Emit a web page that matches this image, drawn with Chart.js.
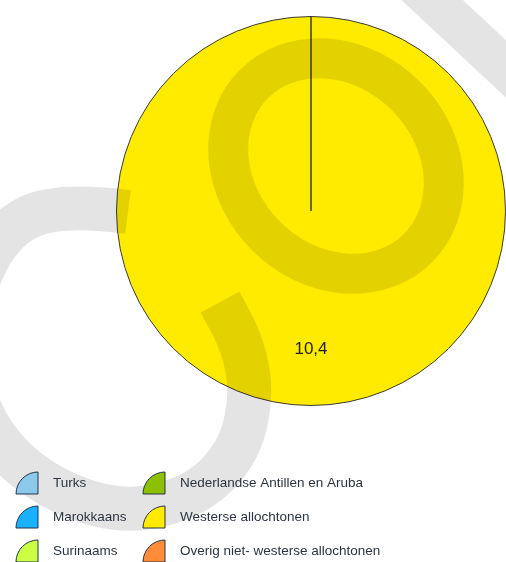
<!DOCTYPE html>
<html>
<head>
<meta charset="utf-8">
<script src="https://cdn.jsdelivr.net/npm/chart.js@4/dist/chart.umd.min.js"></script>
<style>
  body { margin: 0; background: #fff; }
  canvas { display: block; }
</style>
</head>
<body>
<canvas id="pie" width="506" height="562"></canvas>
<script>
// Categories and values (only one group has a value in this chart)
const categories = [
    "Turks",
    "Marokkaans",
    "Surinaams",
    "Nederlandse Antillen en Aruba",
    "Westerse allochtonen",
    "Overig niet- westerse allochtonen"
];
const values = [0, 0, 0, 0, 10.4, 0];
const sliceColors = ["#8cc8ea", "#1ab2ff", "#ccff44", "#8cc000", "#ffeb00", "#ff8c3a"];

// Smooth path through a list of points
function smoothPath(ctx, pts) {
    ctx.beginPath();
    ctx.moveTo(pts[0][0], pts[0][1]);
    for (let i = 1; i < pts.length - 1; i++) {
        const mx = (pts[i][0] + pts[i + 1][0]) / 2;
        const my = (pts[i][1] + pts[i + 1][1]) / 2;
        ctx.quadraticCurveTo(pts[i][0], pts[i][1], mx, my);
    }
    const last = pts[pts.length - 1];
    ctx.lineTo(last[0], last[1]);
}

// Grey watermark drawn over the pie
const watermark = {
    id: "watermark",
    afterDatasetsDraw(chart) {
        const ctx = chart.ctx;
        ctx.save();
        ctx.strokeStyle = "rgba(0, 0, 0, 0.105)";
        ctx.lineCap = "butt";
        ctx.lineJoin = "round";

        // ring inside the pie
        ctx.lineWidth = 40;
        ctx.beginPath();
        ctx.ellipse(336, 166, 116, 99, Math.PI / 4, 0, Math.PI * 2);
        ctx.stroke();

        // diagonal band top right
        ctx.lineWidth = 42;
        ctx.beginPath();
        ctx.moveTo(400, -30);
        ctx.lineTo(550, 110);
        ctx.stroke();

        // big loop on the left
        ctx.lineWidth = 44;
        smoothPath(ctx, [
            [128, 212], [60, 203], [0, 230], [-35, 310], [-30, 400],
            [20, 472], [110, 514], [190, 500], [238, 455], [252, 395],
            [243, 345], [220, 302]
        ]);
        ctx.stroke();
        ctx.restore();
    }
};

// Value label inside the slice and the legend with quarter-pie icons
const labelsAndLegend = {
    id: "labelsAndLegend",
    afterDraw(chart) {
        const ctx = chart.ctx;
        const meta = chart.getDatasetMeta(0);
        ctx.save();
        ctx.font = "17px 'Liberation Sans', Arial, sans-serif";
        ctx.fillStyle = "#1e1e1e";
        ctx.textAlign = "center";
        ctx.textBaseline = "middle";
        meta.data.forEach((arc, i) => {
            if (!values[i]) return;
            const p = arc.getProps(["x", "y", "startAngle", "endAngle", "outerRadius"], true);
            const mid = (p.startAngle + p.endAngle) / 2;
            const r = p.outerRadius * 0.71;
            ctx.fillText(values[i].toString().replace(".", ","), p.x + Math.cos(mid) * r, p.y + Math.sin(mid) * r);
        });

        const colX = [16, 143];
        const rowY = [483, 517, 551];
        const size = 22;
        ctx.font = "13.5px 'Liberation Sans', Arial, sans-serif";
        ctx.textAlign = "left";
        categories.forEach((name, i) => {
            const x = colX[Math.floor(i / 3)];
            const y = rowY[i % 3];
            const cx = x + size, cy = y + size / 2;
            ctx.beginPath();
            ctx.moveTo(cx, cy);
            ctx.lineTo(x, cy);
            ctx.arc(cx, cy, size, Math.PI, Math.PI * 1.5);
            ctx.closePath();
            ctx.fillStyle = sliceColors[i];
            ctx.fill();
            ctx.lineWidth = 1;
            ctx.strokeStyle = "#23344a";
            ctx.stroke();
            ctx.fillStyle = "#2b3440";
            ctx.fillText(name, x + 37, y);
        });
        ctx.restore();
    }
};

new Chart(document.getElementById("pie").getContext("2d"), {
    type: "pie",
    data: {
        labels: categories,
        datasets: [{
            data: values,
            backgroundColor: sliceColors,
            borderColor: "#3a3a3a",
            borderWidth: 1
        }]
    },
    options: {
        responsive: false,
        animation: false,
        layout: { padding: { left: 116, right: 0, top: 16, bottom: 156 } },
        plugins: {
            legend: { display: false },
            tooltip: { enabled: false }
        }
    },
    plugins: [watermark, labelsAndLegend]
});
</script>
</body>
</html>
